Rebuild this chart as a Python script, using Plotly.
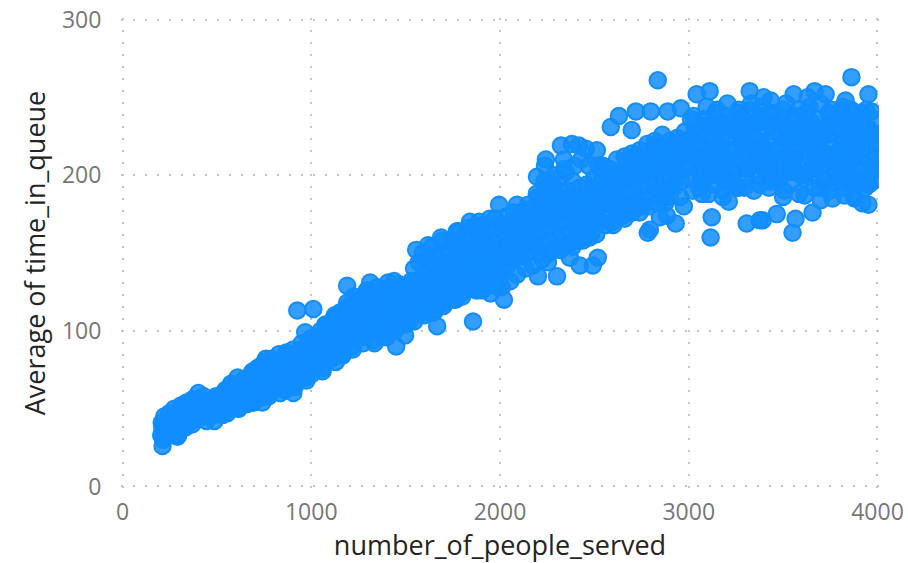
import plotly.graph_objects as go

# Lower stretch of the cloud
low_x = [205,210,215,212,225,235,240,255,262,270,285,290,300,305,318,330,345,350,362,378,385,395,410,418,430,440,452,465,478,487,495,510,520,535,548,560,575,590,600,610,625,640,650,665,680,692,705,715,725,740,752,765,780,790,805,815,830,842,855,868,880,893,905,920,935,950,965,980,995,
         208,222,248,275,310,340,372,402,428,458,488,518,545,572,598,625,650,678,702,728,755,782,810,838,865,890,918,945,972,
         560,590,620,650,672,700,722,745,770,795,825,850,880,905,930,955,985,
         690,715,740,765,790,815,840,870,900,925,950,975,
         218,250,295,335,370,405,445,480,515,550,585,615,660,695,735,775,800,835,860,885,915,940,970,
         555,605,645,700,730,760,795,820,845,875,895,925,960,990,
         600,630,668,708,748,758,785,822,848,878,912,
         530,615,690,775,860,1000,1060,1130]
low_y = [33,39,30,36,35,40,33,42,37,44,39,35,46,41,39,50,44,41,52,46,43,56,50,45,58,52,47,49,55,47,58,52,48,60,54,50,66,58,52,70,60,55,64,57,72,62,58,76,66,60,80,70,63,82,72,67,85,75,70,86,76,72,88,78,74,92,80,75,95,
         41,45,47,50,52,54,56,60,54,54,56,58,62,64,60,62,64,66,70,72,74,74,76,78,80,82,84,86,88,
         53,55,58,60,61,63,66,66,68,70,74,76,78,80,82,84,88,
         74,72,72,76,78,80,80,84,84,86,88,90,
         30,36,33,38,40,44,42,46,47,50,51,50,53,54,57,60,62,64,64,68,66,70,70,
         47,64,69,72,77,82,78,78,72,80,72,74,72,80,
         63,66,66,62,74,64,62,70,68,64,64,
         46,50,54,58,62,72,76,80]

# Middle stretch of the cloud
mid_x = [1005,1020,1040,1055,1070,1090,1105,1120,1140,1155,1170,1190,1205,1225,1240,1260,1280,1295,1315,1335,1350,1370,1390,1410,1430,1450,1470,1490,1510,1530,1550,1570,1590,1610,1630,1650,1670,1690,1710,1730,1750,1770,1790,1810,1830,1850,1870,1890,1910,1930,1950,1970,1990,
         1010,1045,1080,1115,1150,1185,1220,1255,1290,1325,1360,1395,1430,1465,1500,1535,1570,1605,1640,1675,1710,1745,1780,1815,1850,1885,1920,1955,1990,
         1015,1050,1085,1125,1160,1195,1230,1265,1300,1340,1375,1415,1455,1495,1525,1560,1595,1625,1660,1695,1725,1760,1795,1825,1860,1895,1925,1960,1995,
         1100,1135,1175,1210,1245,1285,1320,1355,1385,1420,1460,1505,1540,1575,1615,1645,1680,1720,1755,1785,1820,1855,1880,1915,1945,1980,
         1030,1110,1165,1215,1275,1330,1400,1475,1520,1600,1655,1705,1765,1845,1905,1965,
         1130,1180,1235,1270,1310,1345,1380,1425,1480,1515,1555,1585,1635,1685,1735,1775,1805,1840,1875,1900,1940,1985,
         1200,1250,1305,1365,1405,1440,1485,1545,1620,1665,1740,1800,1835,1875,1935,
         1060,1125,1165,1220,1275,1335,1390,1445,1500,1545,1600,1650,1700,1750,1795,1880,1920,1950,1975,1998,
         1075,1145,1195,1250,1295,1350,1410,1465,1530,1590,1640,1695,1745,1780,1830,1870,1910,1945,1975]
mid_y = [80,92,84,96,88,102,90,108,94,112,98,118,100,122,104,120,106,124,108,124,110,122,104,124,110,120,112,128,114,130,118,144,120,146,122,148,124,150,126,152,130,154,132,158,136,160,138,162,132,164,130,166,128,
         86,90,94,98,102,106,110,112,114,116,116,114,114,118,122,126,130,132,134,136,138,140,144,146,148,150,150,148,148,
         96,100,104,110,108,112,116,114,118,120,112,118,116,120,124,132,136,140,142,142,144,146,150,152,154,154,156,156,160,
         84,88,92,94,98,98,102,100,100,102,104,108,112,114,116,120,120,122,124,128,132,134,134,142,140,144,
         78,82,84,90,96,94,96,108,106,112,114,118,120,140,126,138,
         103,108,112,116,100,116,116,108,124,122,124,128,128,130,134,138,140,142,146,140,152,136,
         116,108,122,104,110,122,112,140,112,116,134,122,128,126,146,
         74,84,86,88,92,92,96,100,104,106,110,112,116,120,124,126,128,124,130,134,
         104,106,114,120,126,128,128,130,132,150,154,158,158,164,166,166,168,172,172]

# Bend where the cloud flattens
bend_x = [2005,2020,2040,2060,2075,2095,2110,2130,2150,2165,2185,2200,2220,2240,2255,2275,2295,2310,2330,2350,2370,2385,2405,2425,2440,2460,2480,2500,2520,2540,2560,2580,2600,2620,2640,2660,2680,2700,2720,2740,2760,2780,2800,2820,2840,2860,2880,2900,2920,2940,2960,2980,
          2015,2050,2085,2120,2155,2190,2225,2260,2300,2340,2375,2415,2450,2490,2530,2570,2610,2650,2690,2730,2770,2810,2850,2890,2930,2970,
          2030,2070,2105,2140,2175,2210,2245,2285,2320,2360,2395,2435,2470,2510,2550,2590,2630,2670,2710,2750,2790,2830,2870,2910,2950,2990,
          2025,2065,2100,2145,2180,2215,2250,2290,2335,2380,2420,2465,2505,2545,2585,2625,2665,2705,2745,2785,2825,2865,2905,2945,2985,
          2035,2080,2125,2170,2205,2235,2270,2315,2355,2390,2430,2475,2515,2555,2605,2645,2685,2725,2765,2805,2845,2895,2935,2975,
          2045,2115,2160,2230,2265,2305,2345,2400,2445,2495,2535,2575,2615,2655,2695,2735,2775,2815,2855,2885,2925,2965,
          2210,2280,2325,2365,2410,2455,2485,2525,2565,2635,2675,2755,2835,2875,2955,
          2010,2055,2090,2135,2175,2225,2260,2320,2385,2440,2475,2510,2560,2595,2650,2700,2750,2790,2860,2920,
          2040,2075,2115,2150,2195,2235,2285,2340,2395,2430,2470,2520,2545]
bend_y = [138,168,142,170,146,172,148,174,150,176,154,186,156,192,158,194,160,198,162,202,164,196,166,192,172,194,174,198,178,200,182,204,180,210,182,212,182,214,184,216,186,220,188,222,190,226,192,222,194,224,196,228,
          150,155,160,162,165,170,176,178,180,184,184,180,182,184,188,190,192,194,196,200,200,202,206,206,208,212,
          160,162,166,168,172,178,182,186,190,190,174,176,178,190,192,198,200,204,206,208,212,214,214,216,216,218,
          146,152,150,158,160,164,166,170,170,172,168,170,170,182,184,186,188,190,192,194,196,198,198,202,204,
          155,158,156,156,170,172,172,176,178,180,182,186,186,190,196,198,200,202,204,208,208,210,212,222,
          168,168,166,186,186,186,184,186,186,192,204,196,200,204,210,212,208,218,218,214,220,218,
          150,152,154,156,158,160,162,170,172,178,176,180,182,182,186,
          128,132,136,140,142,146,150,152,154,158,160,162,168,170,174,176,180,180,186,192,
          174,176,176,178,188,196,200,204,206,210,206,206,206]

# Flat right-hand stretch
high_x = [3000,3030,3060,3090,3120,3150,3180,3210,3240,3270,3300,3330,3360,3390,3420,3450,3480,3510,3540,3570,3600,3630,3660,3690,3720,3750,3780,3810,3840,3870,3900,3930,3960,3990,
          3010,3040,3070,3100,3130,3160,3190,3220,3250,3280,3310,3340,3370,3400,3430,3460,3490,3520,3550,3580,3610,3640,3670,3700,3730,3760,3790,3820,3850,3880,3910,3940,3970,3995,
          3005,3045,3085,3125,3165,3205,3245,3285,3325,3365,3405,3445,3485,3525,3565,3605,3645,3685,3725,3765,3805,3845,3885,3925,3965,3998,
          3015,3055,3095,3135,3175,3215,3255,3295,3335,3375,3415,3455,3495,3535,3575,3615,3655,3695,3735,3775,3815,3855,3895,3935,3975,
          3020,3065,3105,3145,3185,3225,3265,3305,3345,3385,3425,3465,3505,3545,3585,3625,3665,3705,3745,3785,3825,3865,3905,3945,3985,
          3035,3075,3115,3155,3195,3235,3275,3315,3355,3395,3435,3475,3515,3555,3595,3635,3675,3715,3755,3795,3835,3875,3915,3955,3992,
          3025,3080,3140,3200,3260,3320,3380,3440,3500,3560,3620,3680,3740,3800,3860,3920,3980,
          3050,3110,3170,3230,3290,3350,3410,3470,3530,3590,3650,3710,3770,3830,3890,3950,3988,
          3012,3072,3132,3192,3252,3312,3372,3432,3492,3552,3612,3672,3732,3792,3852,3912,3972,
          3095,3150,3205,3265,3330,3385,3445,3515,3585,3640,3700,3755,3815,3880,3940]
high_y = [198,228,196,232,200,230,198,234,202,236,198,232,200,236,202,234,198,230,202,236,200,232,204,230,198,234,200,228,202,236,198,232,200,226,
          206,210,204,212,208,214,206,216,210,212,206,218,208,214,206,216,210,212,204,218,208,212,206,216,210,208,206,214,208,212,204,216,206,210,
          216,220,214,222,218,224,216,226,220,222,216,228,218,224,216,226,220,222,214,228,218,222,216,226,220,218,
          224,192,226,194,224,196,228,192,226,194,222,196,226,194,224,198,222,192,226,196,222,194,224,192,196,
          190,200,188,202,190,204,192,204,190,206,192,200,190,204,188,202,192,206,190,200,192,196,204,194,204,
          212,218,204,220,210,196,222,204,212,218,196,208,222,212,200,220,212,196,218,214,204,186,212,194,212,
          238,236,240,238,240,242,238,240,242,238,240,236,240,238,242,240,236,
          226,232,234,230,236,232,230,234,228,230,234,228,236,234,228,230,226,
          236,196,232,210,232,214,234,212,236,208,228,214,230,212,232,216,226,
          244,242,246,242,246,244,240,246,242,244,246,242,244,240,242]

# Points standing clear of the cloud
outer_x = [2836,3862,3111,3042,3323,3397,3434,3556,3667,3725,3831,3952,3630,3968,2799,2889,2958,2630,2720,2587,2698,
           3116,3550,3122,3566,3656,3466,3307,3376,3392,3762,3614,2931,2794,2783,2974,2884,2847,3212,3952,3878,3825,
           1857,2021,2201,2302,2254,2370,2423,2492,2518,2238,2243,2196,2323,2381,2418,2455,2513,2339,2148,2090,1995,1889,1841,1772,1688,1619,1556,
           926,1011,1190,1312,1407,1439,1450,1497,1667,968,905,836,974,741,487,291,212,
           2600,2660,2740,2900,3070,3180,3260,3500,3700,3920]
outer_y = [261,263,254,252,254,250,248,252,254,252,248,252,250,241,241,241,243,238,241,231,229,
           160,163,173,172,176,175,169,171,171,185,187,169,165,163,180,174,173,183,181,185,187,
           106,120,135,135,144,147,142,142,147,206,210,199,219,220,219,217,216,210,181,181,181,170,170,164,160,155,152,
           113,114,129,131,131,132,90,97,103,99,60,60,68,54,42,32,26,
           168,172,176,186,188,186,192,186,184,182]

people_served = low_x + mid_x + bend_x + high_x + outer_x
time_in_queue = low_y + mid_y + bend_y + high_y + outer_y

x_ticks = [0, 1000, 2000, 3000, 4000]
y_ticks = [0, 100, 200, 300]

fig = go.Figure(go.Scatter(
    x=people_served, y=time_in_queue, mode="markers",
    marker=dict(size=16.5, color="rgba(17,141,255,0.85)", line=dict(color="#118DFF", width=2)),
    showlegend=False,
))

grid = dict(showgrid=True, gridcolor="#c4c4c4", griddash="2px,10px", gridwidth=1.5,
            zeroline=False, showline=False, ticks="outside", tickcolor="rgba(0,0,0,0)",
            automargin=False,
            tickfont=dict(family="Open Sans", size=23, color="#777777"))

title_font = dict(family="Open Sans", size=27, color="#252423")
fig.update_xaxes(range=[-8, 4008], tickvals=x_ticks, ticklen=3,
                 title=dict(text="number_of_people_served", standoff=12, font=title_font), **grid)
fig.update_yaxes(range=[-1, 301], tickvals=y_ticks, ticklen=14,
                 title=dict(text="Average of time_in_queue", standoff=8, font=title_font), **grid)
fig.update_layout(width=908, height=563, paper_bgcolor="white", plot_bgcolor="white",
                  margin=dict(l=120.5, r=28.5, t=17.5, b=74.5))
fig.write_html("out.html", config=dict(displayModeBar=False),
               post_script="document.body.style.margin='0';document.documentElement.style.overflow='hidden';")
